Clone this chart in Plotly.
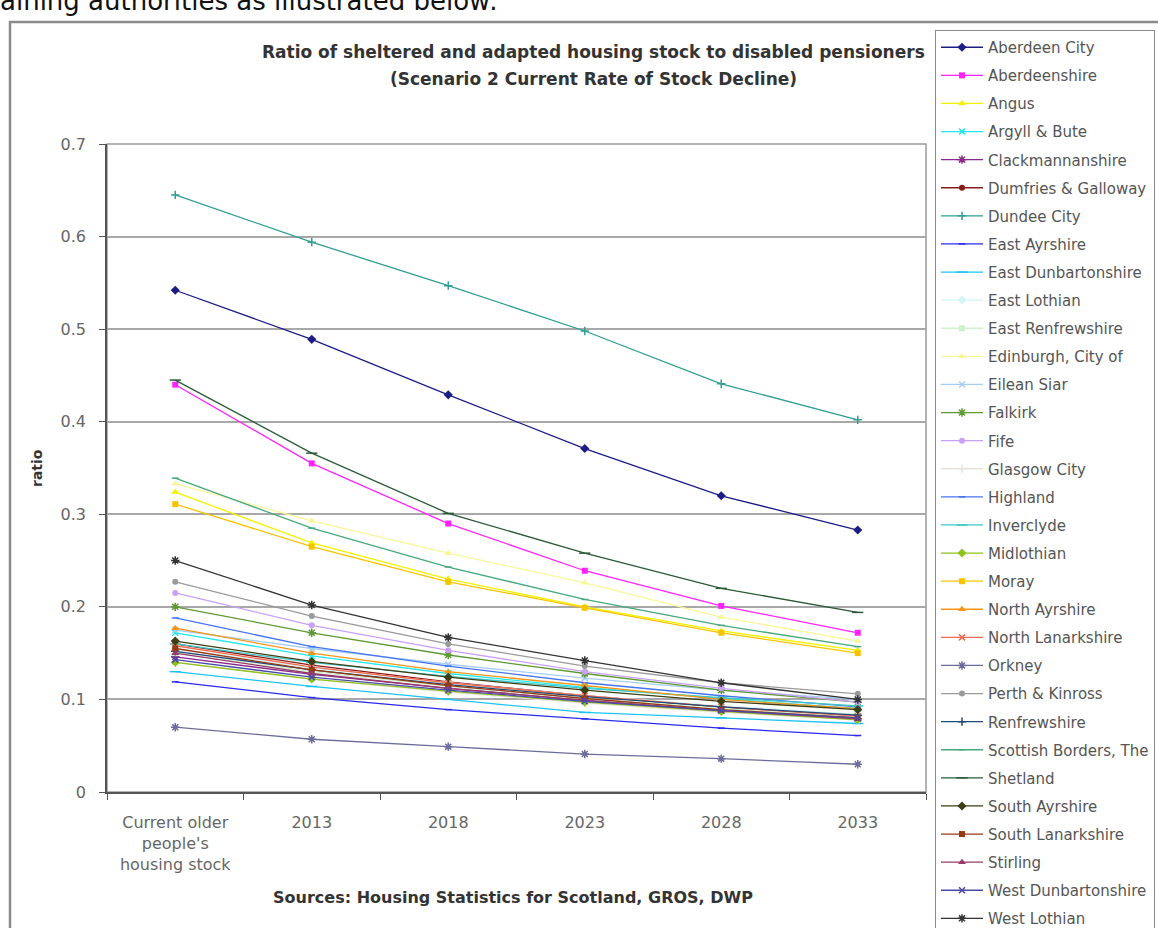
import plotly.graph_objects as go

# ---------------- data ----------------
categories = ["Current older<br>people's<br>housing stock", "2013", "2018", "2023", "2028", "2033"]
y_ticks = [0, 0.1, 0.2, 0.3, 0.4, 0.5, 0.6, 0.7]

aberdeen_city = [0.542, 0.489, 0.429, 0.371, 0.320, 0.283]
aberdeenshire = [0.440, 0.355, 0.290, 0.239, 0.201, 0.172]
angus = [0.324, 0.269, 0.230, 0.200, 0.174, 0.153]
argyll_bute = [0.172, 0.147, 0.128, 0.113, 0.101, 0.090]
clackmannanshire = [0.146, 0.127, 0.112, 0.099, 0.088, 0.079]
dumfries_galloway = [0.160, 0.137, 0.119, 0.104, 0.092, 0.082]
dundee_city = [0.645, 0.594, 0.547, 0.498, 0.441, 0.402]
east_ayrshire = [0.119, 0.102, 0.089, 0.079, 0.069, 0.061]
east_dunbartonshire = [0.130, 0.114, 0.100, 0.086, 0.080, 0.074]
east_lothian = [0.155, 0.134, 0.118, 0.104, 0.093, 0.084]
east_renfrewshire = [0.150, 0.130, 0.114, 0.101, 0.090, 0.081]
edinburgh = [0.333, 0.293, 0.258, 0.226, 0.189, 0.163]
eilean_siar = [0.175, 0.155, 0.138, 0.123, 0.110, 0.100]
falkirk = [0.200, 0.172, 0.148, 0.128, 0.110, 0.097]
fife = [0.215, 0.180, 0.153, 0.130, 0.112, 0.097]
glasgow_city = [0.140, 0.122, 0.108, 0.096, 0.086, 0.078]
highland = [0.188, 0.157, 0.136, 0.118, 0.104, 0.092]
inverclyde = [0.160, 0.140, 0.125, 0.112, 0.102, 0.093]
midlothian = [0.140, 0.122, 0.109, 0.097, 0.087, 0.078]
moray = [0.311, 0.265, 0.227, 0.199, 0.172, 0.150]
north_ayrshire = [0.177, 0.150, 0.130, 0.115, 0.100, 0.090]
north_lanarkshire = [0.158, 0.135, 0.118, 0.104, 0.092, 0.082]
orkney = [0.070, 0.057, 0.049, 0.041, 0.036, 0.030]
perth_kinross = [0.227, 0.190, 0.160, 0.136, 0.118, 0.106]
renfrewshire = [0.152, 0.132, 0.116, 0.103, 0.092, 0.083]
scottish_borders = [0.339, 0.285, 0.243, 0.208, 0.180, 0.157]
shetland = [0.445, 0.366, 0.301, 0.258, 0.220, 0.194]
south_ayrshire = [0.163, 0.141, 0.124, 0.110, 0.098, 0.089]
south_lanarkshire = [0.155, 0.132, 0.115, 0.101, 0.089, 0.080]
stirling = [0.150, 0.128, 0.112, 0.099, 0.088, 0.079]
west_dunbartonshire = [0.143, 0.124, 0.110, 0.098, 0.088, 0.080]
west_lothian = [0.250, 0.202, 0.167, 0.142, 0.118, 0.100]

series_names = [
    "Aberdeen City", "Aberdeenshire", "Angus", "Argyll & Bute", "Clackmannanshire",
    "Dumfries & Galloway", "Dundee City", "East Ayrshire", "East Dunbartonshire",
    "East Lothian", "East Renfrewshire", "Edinburgh, City of", "Eilean Siar", "Falkirk",
    "Fife", "Glasgow City", "Highland", "Inverclyde", "Midlothian", "Moray",
    "North Ayrshire", "North Lanarkshire", "Orkney", "Perth & Kinross", "Renfrewshire",
    "Scottish Borders, The", "Shetland", "South Ayrshire", "South Lanarkshire", "Stirling",
    "West Dunbartonshire", "West Lothian",
]
series_values = [
    aberdeen_city, aberdeenshire, angus, argyll_bute, clackmannanshire,
    dumfries_galloway, dundee_city, east_ayrshire, east_dunbartonshire,
    east_lothian, east_renfrewshire, edinburgh, eilean_siar, falkirk,
    fife, glasgow_city, highland, inverclyde, midlothian, moray,
    north_ayrshire, north_lanarkshire, orkney, perth_kinross, renfrewshire,
    scottish_borders, shetland, south_ayrshire, south_lanarkshire, stirling,
    west_dunbartonshire, west_lothian,
]

# ---------------- styles ----------------
series_colors = [
    "#1c1c86", "#ff22ff", "#f2f200", "#22e8f0", "#8a2a8a",
    "#8a1a1a", "#2f9e94", "#2a2af0", "#1cc4f4", "#d2f6f6",
    "#cdf3cd", "#f7f79a", "#a6cdf6", "#5e9a34", "#c9a0f6",
    "#e8e2dc", "#4474f0", "#3cc8c8", "#8fc21a", "#f7c400",
    "#f79414", "#f46a50", "#6c6c9c", "#9a9a9a", "#1f4a7a",
    "#48a87c", "#2a5a36", "#3e3e14", "#983a10", "#9a3a6a",
    "#4a4aa8", "#333333",
]
marker_cycle = [
    ("diamond", 7), ("square", 6), ("triangle-up", 7), ("x-thin-open", 6),
    ("asterisk-open", 7), ("circle", 6), ("cross-thin-open", 6),
    ("line-ew-open", 5), ("line-ew-open", 8),
]

L, R, T, B = 107, 926, 144, 792
W, H = 1158, 928


def px_x(x):
    return (x - L) / (R - L)


def px_y(y):
    return (B - y) / (B - T)


fig = go.Figure()
for i, (name, vals) in enumerate(zip(series_names, series_values)):
    sym, size = marker_cycle[i % len(marker_cycle)]
    col = series_colors[i]
    fig.add_trace(go.Scatter(
        x=categories, y=vals, name=name, mode="lines+markers",
        legendgroup=name,
        line=dict(color=col, width=1.3),
        marker=dict(symbol=sym, size=size, color=col,
                    line=dict(color=col, width=1.5 if sym.endswith("open") else 0)),
    ))

TXT = "DejaVu Sans"

fig.update_layout(
    width=W, height=H,
    margin=dict(l=L, r=W - R, t=T, b=H - B, autoexpand=False),
    paper_bgcolor="white", plot_bgcolor="white",
    font=dict(family=TXT, size=16, color="#555555"),
    showlegend=True,
    legend=dict(
        x=px_x(935), y=px_y(30), xanchor="left", yanchor="top",
        bordercolor="#8a8a8a", borderwidth=1, bgcolor="white",
        font=dict(family=TXT, size=15, color="#555555"),
        traceorder="grouped", tracegroupgap=5.6, itemwidth=42,
        maxheight=1200,
    ),
    xaxis=dict(
        type="category", range=[-0.5, 5.5], tickson="boundaries",
        showline=True, linecolor="#555555", linewidth=1.5,
        ticks="outside", ticklen=6, tickcolor="#555555",
        showgrid=False, zeroline=False, ticklabelstandoff=15,
        tickfont=dict(family=TXT, size=16, color="#666666"),
    ),
    yaxis=dict(
        range=[0, 0.7], tickvals=y_ticks, ticktext=[str(v) if v else "0" for v in y_ticks],
        showline=True, linecolor="#555555", linewidth=1.5,
        ticks="outside", ticklen=6, tickcolor="#555555",
        showgrid=True, gridcolor="#a8a8a8", gridwidth=2, zeroline=False,
        ticklabelstandoff=10,
        tickfont=dict(family=TXT, size=16, color="#666666"),
    ),
    shapes=[
        dict(type="rect", xref="paper", yref="paper", x0=0, x1=1, y0=0, y1=1,
             line=dict(color="#9a9a9a", width=1.5), layer="below"),
        dict(type="rect", xref="paper", yref="paper",
             x0=px_x(10), x1=px_x(1200), y0=px_y(990), y1=px_y(22),
             line=dict(color="#8c8c8c", width=2.5), layer="below"),
    ],
    annotations=[
        dict(text="aining authorities as illustrated below:", xref="paper", yref="paper",
             x=px_x(-2), y=px_y(1), xanchor="left", yanchor="middle", showarrow=False,
             font=dict(family=TXT, size=26, color="#111111")),
        dict(text="<b>Ratio of sheltered and adapted housing stock to disabled pensioners</b>",
             xref="paper", yref="paper", x=px_x(593), y=px_y(52), xanchor="center",
             yanchor="middle", showarrow=False,
             font=dict(family=TXT, size=17, color="#333333")),
        dict(text="<b>(Scenario 2 Current Rate of Stock Decline)</b>",
             xref="paper", yref="paper", x=px_x(593), y=px_y(79), xanchor="center",
             yanchor="middle", showarrow=False,
             font=dict(family=TXT, size=17, color="#333333")),
        dict(text="<b>ratio</b>", xref="paper", yref="paper", x=px_x(37), y=px_y(468),
             xanchor="center", yanchor="middle", textangle=-90, showarrow=False,
             font=dict(family=TXT, size=14, color="#333333")),
        dict(text="<b>Sources: Housing Statistics for Scotland, GROS, DWP</b>",
             xref="paper", yref="paper", x=px_x(513), y=px_y(897), xanchor="center",
             yanchor="middle", showarrow=False,
             font=dict(family=TXT, size=16, color="#333333")),
    ],
)

fig.write_html(
    "out.html",
    config={"displayModeBar": False},
    post_script="document.body.style.margin='0';document.body.style.overflow='hidden';",
)
